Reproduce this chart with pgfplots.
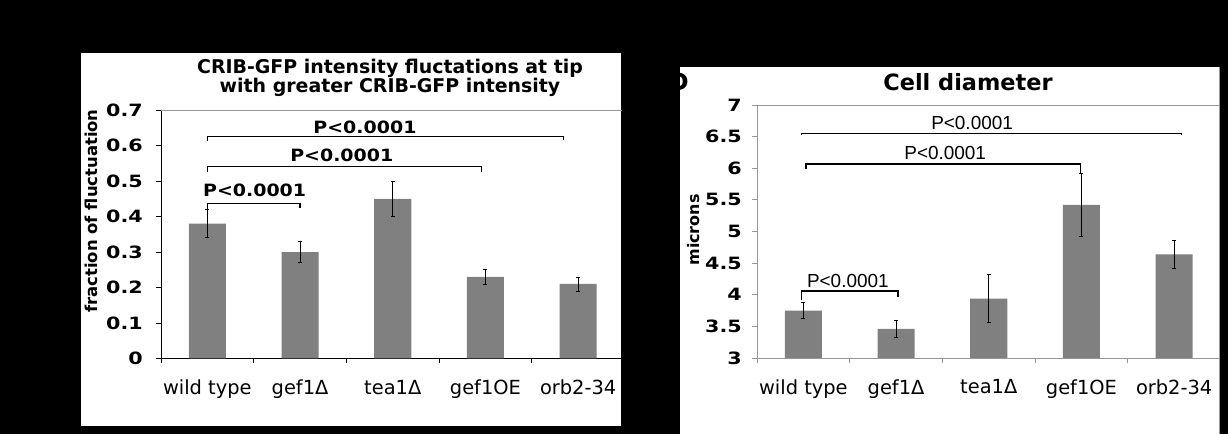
\documentclass[border=0pt]{standalone}
\usepackage{pgfplots}
\pgfplotsset{compat=1.18}
\usepackage{fontspec}
\setmainfont{DejaVu Sans}
\newfontfamily\tickfont[FakeStretch=1.22]{DejaVu Sans}
\newfontfamily\pfont[FakeStretch=1.12]{DejaVu Sans}
\newfontfamily\arialfont{Liberation Sans}
\definecolor{bargray}{RGB}{128,128,128}
\definecolor{bordergray}{RGB}{150,150,150}
\newcommand\fs[1]{\fontsize{#1}{#1}\selectfont}
\begin{document}
\begin{tikzpicture}
\fill[black] (0bp,0bp) rectangle (1228bp,434bp);
\fill[white] (81bp,8bp) rectangle (621bp,381bp);
\fill[white] (680bp,0bp) rectangle (1219bp,367bp);
\node[anchor=east, inner sep=0pt, text=black, font=\bfseries\fs{24}] at (689bp,352bp) {D};

% ---------------- left chart ----------------
\begin{axis}[
  at={(161bp,75.5bp)}, anchor=south west,
  scale only axis, width=463.5bp, height=248.5bp,
  xmin=-0.5, xmax=4.5, ymin=0, ymax=0.7,
  axis x line*=bottom, axis y line*=left,
  axis line style={black, line width=1bp},
  xtick={-0.5,0.5,1.5,2.5,3.5,4.5}, x tick label as interval,
  xticklabels={wild type,gef1Δ,tea1Δ,gef1OE,orb2-34},
  ytick={0,0.1,0.2,0.3,0.4,0.5,0.6,0.7},
  yticklabels={0,0.1,0.2,0.3,0.4,0.5,0.6,0.7},
  tick align=outside, major tick length=5bp,
  tick style={black, line width=0.8bp},
  yticklabel style={font=\tickfont\bfseries\fs{17}, inner sep=2bp, xshift=-11bp},
  xticklabel style={font=\fs{19.5}, yshift=-13bp},
  clip=false,
]
\draw[bordergray, line width=0.8bp] (rel axis cs:0,1) -- (rel axis cs:1,1);
\addplot[ybar, bar width=0.4, bar shift=0, fill=bargray, draw=none,
  error bars/.cd, y dir=both, y explicit,
  error bar style={black, line width=0.7bp},
  error mark options={rotate=90, black, mark size=2bp, line width=0.7bp}]
coordinates {
  (0,0.38) +- (0,0.04)
  (1,0.30) +- (0,0.03)
  (2,0.45) +- (0,0.05)
  (3,0.23) +- (0,0.022)
  (4,0.21) +- (0,0.02)
};
\draw[black, line width=1.3bp] (axis cs:0,0.42) -- (axis cs:0,0.436) -- (axis cs:1,0.436) -- (axis cs:1,0.425);
\draw[black, line width=1.3bp] (axis cs:0,0.525) -- (axis cs:0,0.54) -- (axis cs:2.96,0.54) -- (axis cs:2.96,0.525);
\draw[black, line width=1.3bp] (axis cs:0,0.612) -- (axis cs:0,0.625) -- (axis cs:3.84,0.625) -- (axis cs:3.84,0.615);
\node[font=\pfont\bfseries\fs{17}] at (axis cs:0.51,0.473) {P<0.0001};
\node[font=\pfont\bfseries\fs{17}] at (axis cs:1.45,0.573) {P<0.0001};
\node[font=\pfont\bfseries\fs{17}] at (axis cs:1.70,0.652) {P<0.0001};
\end{axis}
\node[align=center, font=\bfseries\fs{19}, inner sep=0pt] at (390bp,356bp)
  {\fontsize{19}{20}\selectfont CRIB-GFP intensity fluctations at tip\\ with greater CRIB-GFP intensity};
\node[rotate=90, font=\bfseries\fs{16.5}, inner sep=0pt] at (91bp,223bp) {fraction of fluctuation};

% ---------------- right chart ----------------
\begin{axis}[
  at={(757bp,76bp)}, anchor=south west,
  scale only axis, width=463.5bp, height=253bp,
  xmin=-0.5, xmax=4.5, ymin=3, ymax=7,
  axis x line*=bottom, axis y line*=left,
  axis line style={bordergray, line width=0.9bp},
  xtick={-0.5,0.5,1.5,2.5,3.5,4.5}, x tick label as interval,
  xticklabels={wild type,gef1Δ,tea1Δ,gef1OE,orb2-34},
  ytick={3,3.5,4,4.5,5,5.5,6,6.5,7},
  yticklabels={3,3.5,4,4.5,5,5.5,6,6.5,7},
  tick align=outside, major tick length=5bp,
  tick style={bordergray, line width=0.8bp},
  yticklabel style={font=\tickfont\bfseries\fs{17}, inner sep=2bp, xshift=-8bp},
  xticklabel style={font=\fs{19.5}, yshift=-13bp},
  clip=false,
]
\draw[bordergray, line width=0.8bp] (rel axis cs:0,1) -- (rel axis cs:1,1);
\addplot[ybar, bar width=0.4, bar shift=0, fill=bargray, draw=none,
  error bars/.cd, y dir=both, y explicit,
  error bar style={black, line width=0.7bp},
  error mark options={rotate=90, black, mark size=2bp, line width=0.7bp}]
coordinates {
  (0,3.75) +- (0,0.13)
  (1,3.46) +- (0,0.14)
  (2,3.94) +- (0,0.38)
  (3,5.42) +- (0,0.50)
  (4,4.64) +- (0,0.22)
};
\draw[black, line width=1.5bp] (axis cs:-0.02,6.52) -- (axis cs:-0.02,6.55) -- (axis cs:4.08,6.55) -- (axis cs:4.08,6.52);
\draw[black, line width=1.5bp] (axis cs:0.03,5.99) -- (axis cs:0.03,6.07) -- (axis cs:2.99,6.07) -- (axis cs:2.99,5.93);
\draw[black, line width=1.5bp] (axis cs:-0.02,3.92) -- (axis cs:-0.02,4.06) -- (axis cs:1.02,4.06) -- (axis cs:1.02,3.96);
\node[font=\arialfont\fs{19}] at (axis cs:1.82,6.72) {P<0.0001};
\node[font=\arialfont\fs{19}] at (axis cs:1.53,6.24) {P<0.0001};
\node[font=\arialfont\fs{19}] at (axis cs:0.48,4.22) {P<0.0001};
\end{axis}
\draw[bordergray, line width=0.8bp] (1219bp,0bp) -- (1219bp,367bp);
\node[font=\bfseries\fs{22.5}, inner sep=0pt] at (968bp,352bp) {Cell diameter};
\node[rotate=90, font=\bfseries\fs{16}, inner sep=0pt] at (694bp,204bp) {microns};
% cover axis overflow beyond panels
\fill[black] (621.5bp,8bp) rectangle (680bp,381bp);
\fill[black] (1219.5bp,0bp) rectangle (1228bp,434bp);
\end{tikzpicture}
\end{document}
